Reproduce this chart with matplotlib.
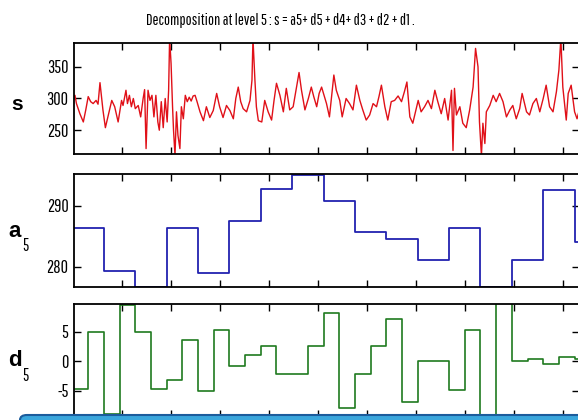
import matplotlib
matplotlib.use("Agg")
import matplotlib.pyplot as plt
from matplotlib import font_manager
from matplotlib.patches import FancyBboxPatch

# signal s (sample index, value)
s_x = [1, 5, 8, 15, 22, 27, 32, 37, 42, 48, 52, 56, 62, 67, 73, 80, 86, 93, 100, 103,
       109, 112, 116, 120, 124, 128, 134, 139, 144, 147, 150, 154, 158, 162, 166, 170, 174, 177, 181, 185,
       189, 193, 196, 198, 201, 204, 206, 209, 212, 215, 219, 222, 226, 230, 234, 238, 242, 246, 250, 254,
       260, 267, 273, 280, 287, 294, 300, 307, 314, 321, 328, 333, 338, 343, 348, 355, 362, 366, 368, 372,
       375, 379, 386, 392, 399, 406, 411, 416, 423, 430, 436, 443, 450, 457, 462, 467, 474, 481, 487, 492,
       498, 503, 508, 518, 524, 533, 538, 545, 550, 558, 565, 572, 579, 586, 592, 599, 606, 613, 620, 625,
       630, 637, 643, 650, 657, 664, 671, 677, 682, 688, 694, 705, 711, 718, 725, 732, 739, 745, 752, 759,
       766, 773, 776, 779, 783, 790, 796, 803, 810, 817, 822, 827, 830, 834, 837, 841, 844, 851, 858, 864,
       871, 878, 885, 892, 898, 905, 912, 917, 926, 932, 939, 946, 953, 960, 966, 973, 980, 987, 992, 996,
       1000, 1007, 1011, 1017, 1024, 1029, 1033]
s_y = [300, 305, 292, 276, 263, 282, 303, 295, 292, 297, 291, 325, 282, 254, 274, 297, 287, 263, 297, 289,
       313, 292, 305, 287, 300, 284, 289, 271, 300, 314, 221, 313, 297, 305, 271, 305, 263, 250, 295, 254,
       300, 263, 313, 395, 355, 287, 250, 210, 279, 242, 221, 287, 268, 305, 295, 302, 296, 304, 305, 295,
       279, 265, 287, 270, 281, 308, 287, 270, 289, 281, 268, 300, 318, 295, 284, 279, 297, 329, 395, 329,
       287, 265, 263, 297, 279, 266, 297, 324, 305, 279, 316, 282, 287, 318, 341, 313, 282, 300, 318, 303,
       287, 308, 318, 292, 271, 337, 313, 297, 271, 300, 292, 282, 321, 297, 282, 266, 274, 292, 287, 303,
       321, 287, 266, 295, 297, 304, 295, 311, 326, 271, 261, 297, 279, 287, 297, 284, 313, 295, 276, 300,
       266, 313, 218, 316, 274, 287, 261, 254, 282, 318, 379, 350, 263, 210, 261, 229, 279, 289, 305, 295,
       308, 295, 271, 282, 289, 268, 284, 308, 279, 274, 292, 300, 279, 300, 321, 287, 279, 311, 345, 395,
       318, 266, 308, 321, 279, 268, 280]

# approximation a5 (piecewise constant)
a5_edges = [0, 64, 128, 192, 256, 320, 384, 448, 512, 576, 640, 704, 768, 832, 896, 960, 1024, 1040]
a5_vals = [286.3, 279.3, 276.7, 286.3, 278.9, 287.5, 292.8, 295.1, 290.8, 285.6, 284.5, 281.1,
           286.3, 276.7, 281.1, 292.5, 284.0]

# detail d5 (piecewise constant)
d5_edges = list(range(0, 1056, 32)) + [1056]
d5_vals = [-4.6, 4.9, -8.9, 9.4, 4.9, -4.6, -3.1, 3.6, -5.0, 5.3, -0.8, 1.0, 2.5, -2.1, -2.1, 2.5,
           8.1, -7.8, -2.1, 2.5, 7.1, -6.9, 0.0, 0.0, -4.9, 5.3, -14.0, 14.0, 0.0, 0.4, -0.4, 0.7, 0.3]

# squeezed helvetica look of the screenshot -> a condensed face
names = {f.name for f in font_manager.fontManager.ttflist}
narrow = next(n for n in ["Pathway Gothic One", "Roboto Condensed", "Archivo Narrow",
                          "PT Sans Narrow", "Liberation Sans"] if n in names)
plt.rcParams["axes.unicode_minus"] = False

W, H = 578, 420
fig = plt.figure(figsize=(W / 100, H / 100), dpi=100)
fig.patch.set_facecolor("white")


def add_axes(top_px, bottom_px):
    left, right = 74, 579
    return fig.add_axes([left / W, 1 - bottom_px / H, (right - left) / W, (bottom_px - top_px) / H])


def style(ax, yticks, ylim):
    ax.set_xlim(3, 1033)
    ax.set_ylim(*ylim)
    ax.set_xticks(range(100, 1001, 100))
    ax.set_yticks(yticks)
    ax.tick_params(direction="in", top=True, right=True, labelbottom=False,
                   length=5, width=1.0, pad=4, labelsize=13)
    for lab in ax.get_yticklabels():
        lab.set_fontfamily(narrow)
    for sp in ax.spines.values():
        sp.set_linewidth(1.3)


ax1 = add_axes(42.7, 154.3)
ax1.plot(s_x, s_y, color="#e01018", lw=1.0)
style(ax1, [250, 300, 350], (212, 388))

ax2 = add_axes(174, 287.3)
ax2.step(a5_edges, a5_vals + [a5_vals[-1]], where="post", color="#2222b0", lw=1.3)
style(ax2, [280, 290], (276.6, 295.2))

ax3 = add_axes(304, 417)
ax3.step(d5_edges, d5_vals + [d5_vals[-1]], where="post", color="#1f7a1f", lw=1.2)
style(ax3, [-5, 0, 5], (-9.4, 9.65))

fig.text(280 / W, 1 - 20 / H, "Decomposition at level 5 : s = a5+ d5 + d4+ d3 + d2 + d1 .",
         ha="center", va="center", fontsize=11.5, family=narrow)

fig.text(17 / W, 1 - 104 / H, "s", ha="center", va="center", fontsize=15, fontweight="bold",
         family="Liberation Sans")
fig.text(15 / W, 1 - 231 / H, "a", ha="center", va="center", fontsize=16, fontweight="bold",
         family="Liberation Sans")
fig.text(25 / W, 1 - 246 / H, "5", ha="center", va="center", fontsize=12, family=narrow)
fig.text(15 / W, 1 - 360 / H, "d", ha="center", va="center", fontsize=16, fontweight="bold",
         family="Liberation Sans")
fig.text(25 / W, 1 - 376 / H, "5", ha="center", va="center", fontsize=12, family=narrow)

# slide banner cut off at the bottom edge
band = FancyBboxPatch((20 / W, -0.05), 1.0, 0.05 + 5 / H, boxstyle="round,pad=0,rounding_size=0.012",
                      transform=fig.transFigure, facecolor="#3aa6dc", edgecolor="#1c5c9c",
                      lw=1.5, zorder=10)
fig.patches.append(band)

fig.savefig("out.png", dpi=100)
